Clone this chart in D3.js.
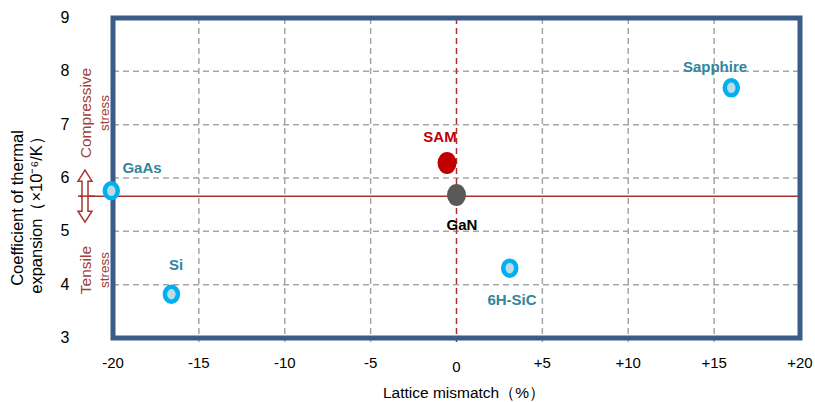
<!DOCTYPE html>
<html>
<head>
<meta charset="utf-8">
<script src="https://cdn.jsdelivr.net/npm/d3@7"></script>
<style>
  body { margin: 0; background: #fff; }
  text { font-family: "Liberation Sans", Arial, sans-serif; }
</style>
</head>
<body>
<svg id="chart" width="815" height="402"></svg>
<script>
// substrates: lattice mismatch (%) vs thermal expansion coefficient
const substrates = ["GaAs", "Si", "6H-SiC", "Sapphire"];
const mismatch = [-20.1, -16.6, 3.1, 16.0];
const expansion = [5.76, 3.82, 4.31, 7.69];
const labelPos = [[142, 168], [176, 265], [512, 300], [715, 67]]; // label anchors in px

const refName = "GaN", refX = 0, refY = 5.68;
const samName = "SAM", samX = -0.55, samY = 6.28;
const gaNLine = 5.66;

const xTicks = [-20, -15, -10, -5, 0, 5, 10, 15, 20];
const xTickLabels = ["-20", "-15", "-10", "-5", "0", "+5", "+10", "+15", "+20"];
const yTicks = [3, 4, 5, 6, 7, 8, 9];

const svg = d3.select("#chart");
const plot = {left: 113, right: 800, top: 18, bottom: 338};

const x = d3.scaleLinear().domain([-20, 20]).range([plot.left, plot.right]);
const y = d3.scaleLinear().domain([3, 9]).range([plot.bottom, plot.top]);

const grid = svg.append("g");

// horizontal dashed grid
grid.selectAll(".hg").data(yTicks.filter(d => d > 3 && d < 9)).enter()
  .append("line")
  .attr("x1", plot.left).attr("x2", plot.right)
  .attr("y1", d => y(d)).attr("y2", d => y(d))
  .attr("stroke", "#a6a6a6").attr("stroke-width", 1.5)
  .attr("stroke-dasharray", "6,4");

// vertical dashed grid
grid.selectAll(".vg").data(xTicks.filter(d => d !== 0 && Math.abs(d) < 20)).enter()
  .append("line")
  .attr("x1", d => x(d)).attr("x2", d => x(d))
  .attr("y1", plot.top).attr("y2", plot.bottom + 4)
  .attr("stroke", "#a6a6a6").attr("stroke-width", 1.5)
  .attr("stroke-dasharray", "6,4");

// zero line
grid.append("line")
  .attr("x1", x(0)).attr("x2", x(0))
  .attr("y1", plot.top).attr("y2", plot.bottom + 4)
  .attr("stroke", "#a83232").attr("stroke-width", 1.5)
  .attr("stroke-dasharray", "6,4");

// GaN reference line
svg.append("line")
  .attr("x1", 80).attr("x2", plot.right)
  .attr("y1", y(gaNLine)).attr("y2", y(gaNLine))
  .attr("stroke", "#a83232").attr("stroke-width", 1.5);

// frame
svg.append("rect")
  .attr("x", plot.left).attr("y", plot.top)
  .attr("width", plot.right - plot.left).attr("height", plot.bottom - plot.top)
  .attr("fill", "none")
  .attr("stroke", "#3b5c88").attr("stroke-width", 5);

// double arrow
const ax = 85, ay = y(gaNLine);
const arrowPath = `M${ax},${ay - 26} L${ax + 7},${ay - 15} L${ax + 3},${ay - 15} L${ax + 3},${ay + 15} L${ax + 7},${ay + 15} L${ax},${ay + 26} L${ax - 7},${ay + 15} L${ax - 3},${ay + 15} L${ax - 3},${ay - 15} L${ax - 7},${ay - 15} Z`;
svg.append("path").attr("d", arrowPath)
  .attr("fill", "#fff").attr("stroke", "#a83232").attr("stroke-width", 1.5);
svg.append("line")
  .attr("x1", 78).attr("x2", 95)
  .attr("y1", ay).attr("y2", ay)
  .attr("stroke", "#a83232").attr("stroke-width", 1.5);

// stress labels
function stressLabel(cy, first, second) {
  svg.append("text")
    .attr("transform", `translate(91,${cy}) rotate(-90)`)
    .attr("text-anchor", "middle")
    .attr("font-size", 15.5).attr("fill", "#a0403c")
    .text(first);
  svg.append("text")
    .attr("transform", `translate(109,${cy}) rotate(-90)`)
    .attr("text-anchor", "middle")
    .attr("font-size", 13.5).attr("fill", "#a0403c")
    .text(second);
}
stressLabel(113, "Compressive", "stress");
stressLabel(270, "Tensile", "stress");

// y ticks
svg.append("g").selectAll("text").data(yTicks).enter()
  .append("text")
  .attr("x", 65).attr("y", d => y(d) + 5)
  .attr("text-anchor", "middle")
  .attr("font-size", 16).attr("fill", "#000")
  .text(d => d);

// x ticks
svg.append("g").selectAll("text").data(xTicks).enter()
  .append("text")
  .attr("x", d => x(d)).attr("y", (d, i) => i === 4 ? 372 : 368)
  .attr("text-anchor", "middle")
  .attr("font-size", 15).attr("fill", "#000")
  .text((d, i) => xTickLabels[i]);

// axis titles
svg.append("text")
  .attr("x", 464).attr("y", 398)
  .attr("text-anchor", "middle")
  .attr("font-size", 15.5).attr("fill", "#000")
  .text("Lattice mismatch（%）");

svg.append("text")
  .attr("transform", "translate(23,208) rotate(-90)")
  .attr("text-anchor", "middle")
  .attr("font-size", 16.5).attr("fill", "#000")
  .text("Coefficient of thermal");
svg.append("text")
  .attr("transform", "translate(42,211) rotate(-90)")
  .attr("text-anchor", "middle")
  .attr("font-size", 16.5).attr("fill", "#000")
  .text("expansion（×10⁻⁶/K）");

// substrate markers
svg.append("g").selectAll("ellipse").data(substrates).enter()
  .append("ellipse")
  .attr("cx", (d, i) => x(mismatch[i]))
  .attr("cy", (d, i) => y(expansion[i]))
  .attr("rx", 6.5).attr("ry", 7.5)
  .attr("fill", "#b7dde8")
  .attr("stroke", "#00b0f0").attr("stroke-width", 4.5);

svg.append("g").selectAll("text").data(substrates).enter()
  .append("text")
  .attr("x", (d, i) => labelPos[i][0])
  .attr("y", (d, i) => labelPos[i][1] + 5)
  .attr("text-anchor", "middle")
  .attr("font-size", 15).attr("font-weight", "bold")
  .attr("fill", "#31859c")
  .text(d => d);

// SAM and GaN
svg.append("ellipse")
  .attr("cx", x(samX)).attr("cy", y(samY))
  .attr("rx", 9.5).attr("ry", 11)
  .attr("fill", "#c00000");
svg.append("text")
  .attr("x", 440).attr("y", 142)
  .attr("text-anchor", "middle")
  .attr("font-size", 15).attr("font-weight", "bold")
  .attr("fill", "#c00000")
  .text(samName);

svg.append("ellipse")
  .attr("cx", x(refX)).attr("cy", y(refY))
  .attr("rx", 9.5).attr("ry", 11)
  .attr("fill", "#595959");
svg.append("text")
  .attr("x", 462).attr("y", 230)
  .attr("text-anchor", "middle")
  .attr("font-size", 15).attr("font-weight", "bold")
  .attr("fill", "#000")
  .text(refName);
</script>
</body>
</html>
